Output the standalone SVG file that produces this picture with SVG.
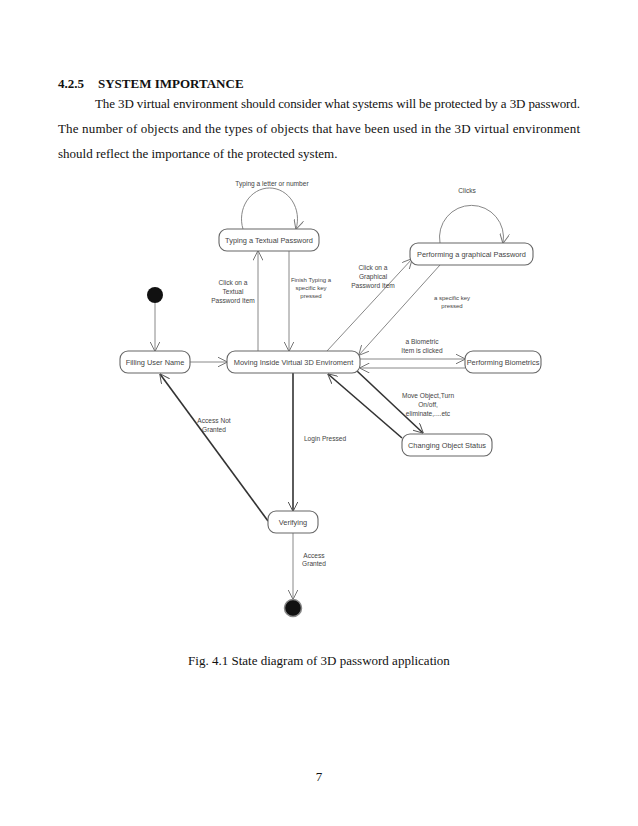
<svg xmlns="http://www.w3.org/2000/svg" width="638" height="826" viewBox="0 0 638 826">
<style>
.body{font-family:"Liberation Serif","Times New Roman",serif;font-size:13px;fill:#111}
.lbl{font-family:"Liberation Sans",Arial,sans-serif;font-size:6.6px;fill:#444;text-anchor:middle}
.sm{font-size:6px}
.nt{font-family:"Liberation Sans",Arial,sans-serif;font-size:7.4px;fill:#444;text-anchor:middle}
.node{fill:#fff;stroke:#666;stroke-width:1.1}
.c{fill:none;stroke:#888;stroke-width:1}
.d{fill:none;stroke:#333;stroke-width:1.6}
</style>
<defs>
<marker id="a" viewBox="0 0 10 10" refX="9.5" refY="5" markerWidth="10" markerHeight="10" markerUnits="userSpaceOnUse" orient="auto">
<path d="M0,0 L10,5 L0,10" fill="none" stroke="#777" stroke-width="1"/>
</marker>
<marker id="ad" viewBox="0 0 10 10" refX="9.5" refY="5" markerWidth="10" markerHeight="10" markerUnits="userSpaceOnUse" orient="auto">
<path d="M0,0 L10,5 L0,10" fill="none" stroke="#555" stroke-width="1"/>
</marker>
</defs>
<rect width="638" height="826" fill="#fff"/>
<text class="body" x="58" y="88" font-weight="bold">4.2.5</text>
<text class="body" x="98" y="88" font-weight="bold">SYSTEM IMPORTANCE</text>
<text class="body" x="95" y="108" textLength="485" lengthAdjust="spacing">The 3D virtual environment should consider what systems will be protected by a 3D password.</text>
<text class="body" x="58" y="133" textLength="522" lengthAdjust="spacing">The number of objects and the types of objects that have been used in the 3D virtual environment</text>
<text class="body" x="58" y="158">should reflect the importance of the protected system.</text>

<g id="connectors">
<path class="c" d="M155,303 L155,351" marker-end="url(#a)"/>
<path class="c" d="M190,362 L227,362" marker-end="url(#a)"/>
<path class="c" d="M243,229 A28,31 0 1 1 296,229" marker-end="url(#a)"/>
<path class="c" d="M440,243 A32,32 0 1 1 503,243" marker-end="url(#a)"/>
<path class="c" d="M258,351 L258,251" marker-end="url(#a)"/>
<path class="c" d="M289,251 L289,351" marker-end="url(#a)"/>
<path class="c" d="M327,351 L412,259" marker-end="url(#a)"/>
<path class="c" d="M440,265 L359,355" marker-end="url(#a)"/>
<path class="c" d="M360,359 L465,359" marker-end="url(#a)"/>
<path class="c" d="M465,368 L360,368" marker-end="url(#a)"/>
<path class="d" d="M357,371 L423,433" marker-end="url(#ad)"/>
<path class="d" d="M402,438 L328,374" marker-end="url(#ad)"/>
<path class="d" d="M293,373 L293,511" marker-end="url(#ad)"/>
<path class="d" d="M268,521 L160,374" marker-end="url(#ad)"/>
<path class="c" d="M293,533 L293,599" marker-end="url(#a)"/>
<text class="lbl" x="272" y="186">Typing a letter or  number</text>
<text class="lbl" x="467" y="193">Clicks</text>
<text class="lbl" x="233" y="285">Click on a</text>
<text class="lbl" x="233" y="294">Textual</text>
<text class="lbl" x="233" y="303">Password Item</text>
<text class="lbl sm" x="311" y="282">Finish Typing a</text>
<text class="lbl sm" x="311" y="290">specific key</text>
<text class="lbl sm" x="311" y="298">pressed</text>
<text class="lbl" x="373" y="270">Click on a</text>
<text class="lbl" x="373" y="279">Graphical</text>
<text class="lbl" x="373" y="288">Password Item</text>
<text class="lbl sm" x="452" y="300">a specific key</text>
<text class="lbl sm" x="452" y="308">pressed</text>
<text class="lbl" x="422" y="344">a Biometric</text>
<text class="lbl" x="422" y="353">Item is clicked</text>
<text class="lbl" x="428" y="398">Move Object,Turn</text>
<text class="lbl" x="428" y="407">On/off,</text>
<text class="lbl" x="428" y="416">eliminate,....etc</text>
<text class="lbl" x="214" y="423">Access Not</text>
<text class="lbl" x="214" y="432">Granted</text>
<text class="lbl" x="325" y="441">Login Pressed</text>
<text class="lbl" x="314" y="558">Access</text>
<text class="lbl" x="314" y="566">Granted</text>
</g>

<g id="initial"><circle cx="155" cy="295" r="8" fill="#111"/></g>
<g id="final"><circle cx="293" cy="608" r="8.5" fill="#111" stroke="#888" stroke-width="1.5"/></g>
<g id="typing"><rect class="node" x="219" y="229" width="100" height="22" rx="8"/><text class="nt" x="269" y="243">Typing a Textual Password</text></g>
<g id="graphical"><rect class="node" x="410" y="243" width="123" height="22" rx="8"/><text class="nt" x="471.5" y="257">Performing a graphical Password</text></g>
<g id="filling"><rect class="node" x="120" y="351" width="70" height="22" rx="8"/><text class="nt" x="155" y="365">Filling User Name</text></g>
<g id="moving"><rect class="node" x="227" y="351" width="133" height="22" rx="8"/><text class="nt" x="293.5" y="365">Moving Inside Virtual 3D Enviroment</text></g>
<g id="biometrics"><rect class="node" x="465" y="351" width="76" height="22" rx="8"/><text class="nt" x="503" y="365" font-size="6.8">Performing Biometrics</text></g>
<g id="changing"><rect class="node" x="402" y="434" width="90" height="22" rx="8"/><text class="nt" x="447" y="448">Changing Object Status</text></g>
<g id="verifying"><rect class="node" x="268" y="511" width="50" height="22" rx="8"/><text class="nt" x="293" y="525">Verifying</text></g>

<text class="body" x="319" y="665" text-anchor="middle">Fig. 4.1 State diagram of 3D password application</text>
<text class="body" x="319" y="781" text-anchor="middle">7</text>
</svg>
